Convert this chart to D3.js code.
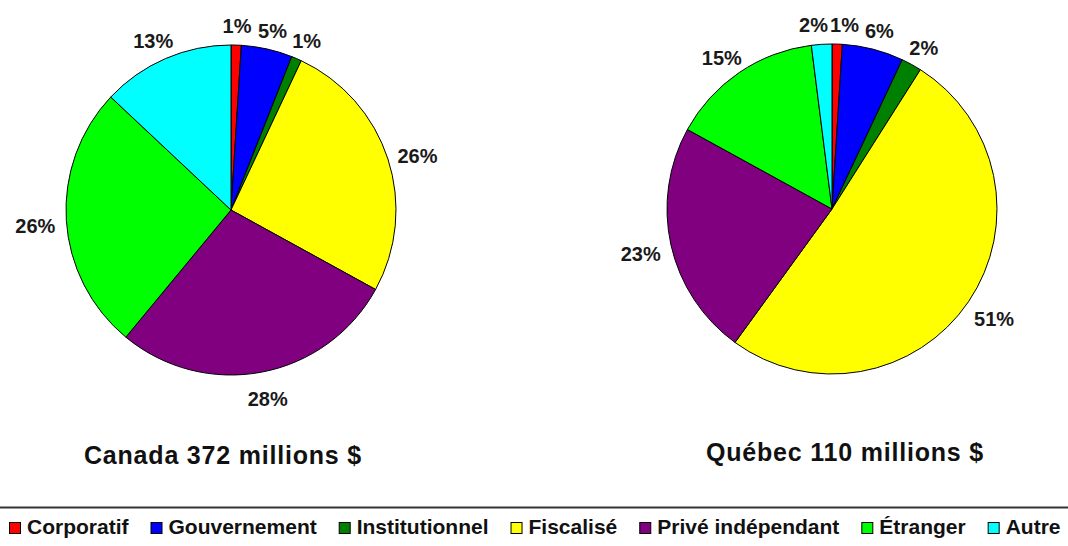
<!DOCTYPE html>
<html><head><meta charset="utf-8">
<script src="https://cdn.jsdelivr.net/npm/d3@7/dist/d3.min.js"></script>
<style>
html,body{margin:0;padding:0;background:#fff;overflow:hidden;}
svg{display:block;font-family:"Liberation Sans",Arial,sans-serif;}
</style></head>
<body>
<svg id="c" width="1068" height="546"></svg>
<script>
const categories = ["Corporatif","Gouvernement","Institutionnel","Fiscalisé","Privé indépendant","Étranger","Autre"];
const colors = ["#FF0000","#0000FF","#008000","#FFFF00","#800080","#00FF00","#00FFFF"];
const canadaValues = [1,5,1,26,28,26,13];
const quebecValues = [1,6,2,51,23,15,2];
const titles = ["Canada 372 millions $","Québec 110 millions $"];

const svg = d3.select("#c");
const pies = [
  {values: canadaValues, cx: 231, cy: 210, title: titles[0], tx: 223, ty: 464},
  {values: quebecValues, cx: 832, cy: 209, title: titles[1], tx: 845, ty: 461}
];
const R = 165;
const pie = d3.pie().sort(null).value(d => d);
const arc = d3.arc().innerRadius(0).outerRadius(R);

pies.forEach(p => {
  const g = svg.append("g").attr("transform", `translate(${p.cx},${p.cy})`);
  const arcs = pie(p.values);
  g.selectAll("path").data(arcs).join("path")
    .attr("d", arc)
    .attr("fill", (d,i) => colors[i])
    .attr("stroke", "#000").attr("stroke-width", 1).attr("stroke-linejoin","round");
  const labels = g.selectAll("text.lbl").data(arcs).join("text")
    .attr("class","lbl")
    .attr("font-size", 20).attr("font-weight", "bold").attr("fill","#1a1a1a")
    .attr("text-anchor","middle").attr("dominant-baseline","central")
    .text(d => d3.format(".0%")(d.data/100));
  const boxes = [];
  labels.each(function(d){
    const a = (d.startAngle + d.endAngle)/2;
    const hw = this.getComputedTextLength()/2;
    const x = Math.sin(a)*(176 + hw);
    const y = -Math.cos(a)*(175 + 9) + 8*(1 - Math.cos(a))/2;
    boxes.push({node:this, x, y, hw});
  });
  // simple collision avoidance
  for (let it=0; it<20; it++) {
    for (let i=0;i<boxes.length;i++) for (let j=i+1;j<boxes.length;j++){
      const A=boxes[i], B=boxes[j];
      if (Math.abs(A.y-B.y) < 18) {
        const ov = (A.hw + B.hw + 2) - Math.abs(A.x-B.x);
        if (ov > 0) {
          const s = A.x < B.x ? -1 : 1;
          A.x += s*ov/2; B.x -= s*ov/2;
        }
      }
    }
  }
  boxes.forEach(b => d3.select(b.node).attr("x", b.x).attr("y", b.y));
  svg.append("text").attr("x", p.tx).attr("y", p.ty)
    .attr("text-anchor","middle").attr("font-size", 25).attr("font-weight","bold")
    .attr("letter-spacing", 0.8).attr("fill","#111").text(p.title);
});

// legend
svg.append("line").attr("x1",0).attr("x2",1068).attr("y1",507.5).attr("y2",507.5)
  .attr("stroke","#333").attr("stroke-width",2);
let lx = 9;
categories.forEach((c,i) => {
  svg.append("rect").attr("x", lx+0.5).attr("y", 522.5).attr("width", 11).attr("height", 11)
    .attr("fill", colors[i]).attr("stroke","#000").attr("stroke-width",1);
  const t = svg.append("text").attr("x", lx+18).attr("y", 534)
    .attr("font-size", 21).attr("font-weight","bold").attr("fill","#111").text(c);
  lx += 18 + t.node().getComputedTextLength() + 22;
});
</script>
</body></html>
